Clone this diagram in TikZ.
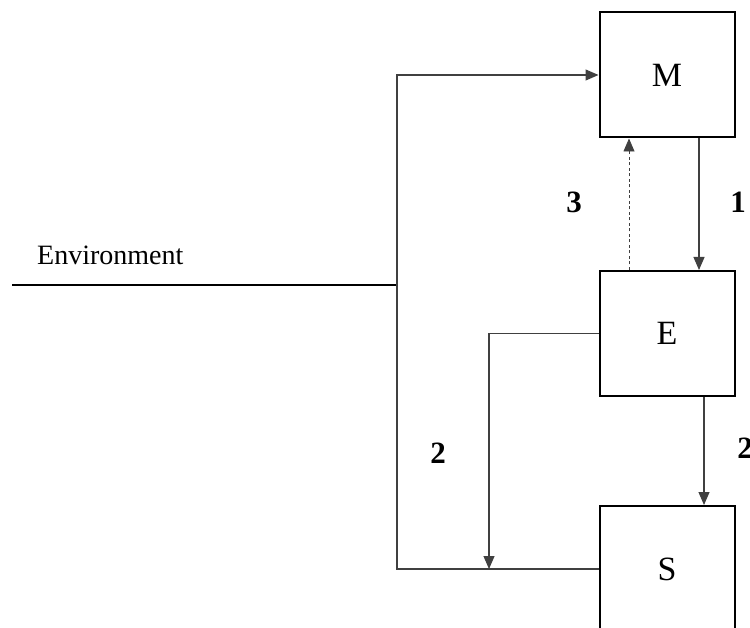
\documentclass[tikz,border=0pt]{standalone}
\usepackage{fontspec}
\setmainfont{Liberation Serif}
\usetikzlibrary{arrows.meta,calc}
\begin{document}
\begin{tikzpicture}[x=1pt,y=-1pt,
  blk/.style={draw=black,line width=2pt,minimum width=135pt,minimum height=125pt,inner sep=0pt,font=\fontsize{34}{40}\selectfont,fill=white},
  conn/.style={draw=black!75,line width=1.1pt},
  arr/.style={conn,-{Triangle[length=13pt,width=11pt]}},
  lbl/.style={font=\fontsize{31}{36}\selectfont\bfseries,inner sep=0pt},
  envtxt/.style={font=\fontsize{28}{33}\selectfont,inner sep=0pt,anchor=base west}]
\useasboundingbox (0,0) rectangle (750,628);
\clip (0,0) rectangle (750,628);
% boxes
\node[blk] (M) at (667,75) {M};
\node[blk] (E) at (667,333.5) {E};
\node[blk,minimum height=126pt] (S) at (667,569) {S};
% coordinates
\coordinate (envL) at (12,285);
\coordinate (envR) at (397,285);
\coordinate (J) at (397,569);
\coordinate (T) at (489,569);
\coordinate (dx) at (629,0);
\coordinate (ax1) at (699,0);
\coordinate (ax2) at (704,0);
% environment
\node[envtxt] (envlabel) at (37,265) {Environment};
\draw[conn,draw=black] (envL) -- (envR);
% left feedback loop
\draw[arr] (S.west) -- (J) |- (M.west);
% E to the bottom line
\draw[arr] (E.west) -| (T);
% arrows between boxes
\draw[arr] (M.south -| ax1) -- (E.north -| ax1);
\draw[arr] (E.south -| ax2) -- (S.north -| ax2);
\draw[arr,dashed,line width=0.8pt,dash pattern=on 3pt off 2.5pt] (E.north -| dx) -- (M.south -| dx);
% labels
\node[lbl] (l1) at (738,202) {1};
\node[lbl] (l3) at (574,202) {3};
\node[lbl] (l2a) at (438,453) {2};
\node[lbl] (l2b) at (745,448) {2};
\end{tikzpicture}
\end{document}
